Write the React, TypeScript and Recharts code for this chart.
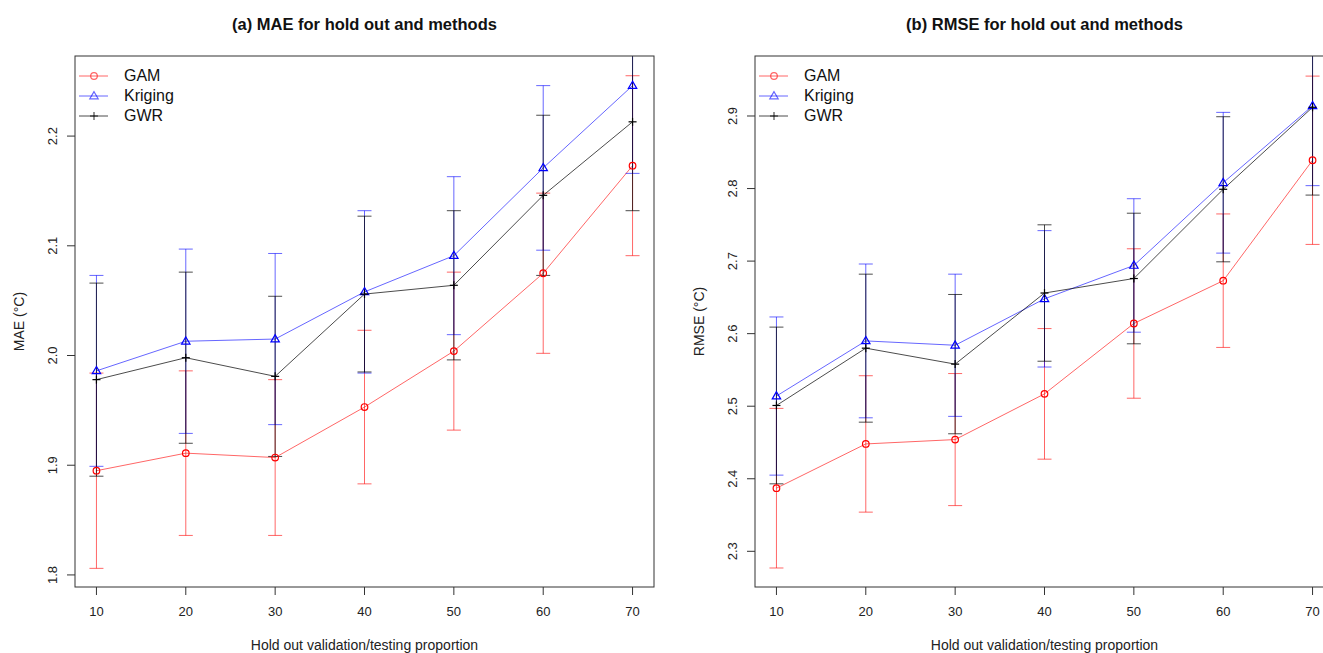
import React from 'react';
import { LineChart, Line, XAxis, YAxis, ErrorBar, ReferenceArea, Label } from 'recharts';

// ---------- data ----------
const proportions = [10, 20, 30, 40, 50, 60, 70];
const xTicks = [10, 20, 30, 40, 50, 60, 70];

const gamMae = [1.895, 1.911, 1.907, 1.953, 2.004, 2.075, 2.173];
const gamMaeErr = [0.089, 0.075, 0.071, 0.07, 0.072, 0.073, 0.082];
const krigMae = [1.986, 2.013, 2.015, 2.058, 2.091, 2.171, 2.246];
const krigMaeErr = [0.087, 0.084, 0.078, 0.074, 0.072, 0.075, 0.08];
const gwrMae = [1.978, 1.998, 1.981, 2.056, 2.064, 2.146, 2.213];
const gwrMaeErr = [0.088, 0.078, 0.073, 0.071, 0.068, 0.073, 0.081];

const gamRmse = [2.387, 2.448, 2.454, 2.517, 2.614, 2.673, 2.839];
const gamRmseErr = [0.11, 0.094, 0.091, 0.09, 0.103, 0.092, 0.116];
const krigRmse = [2.514, 2.59, 2.584, 2.648, 2.694, 2.808, 2.914];
const krigRmseErr = [0.109, 0.106, 0.098, 0.094, 0.092, 0.097, 0.11];
const gwrRmse = [2.501, 2.58, 2.558, 2.656, 2.676, 2.799, 2.912];
const gwrRmseErr = [0.108, 0.102, 0.096, 0.094, 0.09, 0.1, 0.121];

const maeTicks = [1.8, 1.9, 2.0, 2.1, 2.2];
const rmseTicks = [2.3, 2.4, 2.5, 2.6, 2.7, 2.8, 2.9];
const xDomain: [number, number] = [7.6, 72.4];
const maeDomain: [number, number] = [1.789, 2.273];
const rmseDomain: [number, number] = [2.2508, 2.9827];

const seriesNames = ['GAM', 'Kriging', 'GWR'];

// ---------- styling ----------
const FONT = '"Liberation Sans", Arial, Helvetica, sans-serif';
const LINE_COL = ['rgba(255,0,0,0.6)', 'rgba(0,0,255,0.6)', 'rgba(0,0,0,0.7)'];
const MARK_COL = ['#ff0000', '#0000ff', '#000000'];
const AXIS_COL = '#333';

function buildRows(g: number[], ge: number[], k: number[], ke: number[], w: number[], we: number[]) {
  return proportions.map((p, i) => ({
    p,
    gam: g[i],
    gamErr: ge[i],
    krig: k[i],
    krigErr: ke[i],
    gwr: w[i],
    gwrErr: we[i],
  }));
}

const maeRows = buildRows(gamMae, gamMaeErr, krigMae, krigMaeErr, gwrMae, gwrMaeErr);
const rmseRows = buildRows(gamRmse, gamRmseErr, krigRmse, krigRmseErr, gwrRmse, gwrRmseErr);

function markerShape(kind: number, cx: number, cy: number, color: string, key?: string) {
  if (kind === 0) {
    return <circle key={key} cx={cx} cy={cy} r={3.3} fill="none" stroke={color} strokeWidth={1.2} />;
  }
  if (kind === 1) {
    const pts = `${cx},${cy - 4.4} ${cx - 4.2},${cy + 2.8} ${cx + 4.2},${cy + 2.8}`;
    return <polygon key={key} points={pts} fill="none" stroke={color} strokeWidth={1.2} />;
  }
  return (
    <g key={key}>
      <line x1={cx - 4} y1={cy} x2={cx + 4} y2={cy} stroke={color} strokeWidth={1.2} />
      <line x1={cx} y1={cy - 4} x2={cx} y2={cy + 4} stroke={color} strokeWidth={1.2} />
    </g>
  );
}

const makeDot = (kind: number) => (props: any) => {
  const { cx, cy, index } = props;
  if (cx == null || cy == null) return <g key={`d${kind}-${index}`} />;
  return markerShape(kind, cx, cy, MARK_COL[kind], `d${kind}-${index}`);
};

const YTick = (props: any) => {
  const { x, y, payload } = props;
  const tx = x - 8;
  return (
    <text
      x={tx}
      y={y}
      transform={`rotate(-90, ${tx}, ${y})`}
      textAnchor="middle"
      fontSize={13}
      fill="#222"
      fontFamily={FONT}
    >
      {Number(payload.value).toFixed(1)}
    </text>
  );
};

const LegendBox = ({ left, top }: { left: number; top: number }) => (
  <div style={{ position: 'absolute', left, top, fontFamily: FONT }}>
    {seriesNames.map((name, i) => (
      <div key={name} style={{ display: 'flex', alignItems: 'center', height: 20 }}>
        <svg width={45} height={20} style={{ display: 'block' }}>
          <line x1={0} y1={10} x2={29} y2={10} stroke={LINE_COL[i]} strokeWidth={1} />
          {markerShape(i, 15, 10, LINE_COL[i])}
        </svg>
        <span style={{ fontSize: 16, lineHeight: '20px', color: '#111' }}>{name}</span>
      </div>
    ))}
  </div>
);

type PanelProps = {
  rows: any[];
  domain: [number, number];
  yTicks: number[];
  yLabel: string;
  title: string;
  left: number;
};

const Panel = ({ rows, domain, yTicks, yLabel, title, left }: PanelProps) => (
  <div style={{ position: 'absolute', left, top: 0, width: 680, height: 653 }}>
    <LineChart
      width={680}
      height={653}
      data={rows}
      margin={{ top: 56, right: 26, bottom: 36, left: 15 }}
      style={{ position: 'absolute', left: 0, top: 0 }}
    >
      <XAxis
        dataKey="p"
        type="number"
        domain={xDomain}
        ticks={xTicks}
        interval={0}
        allowDataOverflow
        axisLine={false}
        tickLine={{ stroke: AXIS_COL }}
        tickSize={8}
        tickMargin={12}
        height={30}
        tick={{ fontSize: 13, fill: '#222', fontFamily: FONT }}
      >
        <Label
          value="Hold out validation/testing proportion"
          position="bottom"
          offset={23}
          style={{ fontSize: 14, fill: '#222', fontFamily: FONT }}
        />
      </XAxis>
      <YAxis
        type="number"
        domain={domain}
        ticks={yTicks}
        interval={0}
        allowDataOverflow
        axisLine={false}
        tickLine={{ stroke: AXIS_COL }}
        tickSize={8}
        width={60}
        tick={<YTick />}
      >
        <Label
          content={(p: any) => {
            const vb = p.viewBox || { x: 15, y: 56, width: 60, height: 531 };
            const cx = vb.x + 4;
            const cy = vb.y + vb.height / 2;
            return (
              <text
                x={cx}
                y={cy}
                transform={`rotate(-90, ${cx}, ${cy})`}
                textAnchor="middle"
                dominantBaseline="central"
                fontSize={14}
                fill="#222"
                fontFamily={FONT}
              >
                {yLabel}
              </text>
            );
          }}
        />
      </YAxis>
      <Line
        dataKey="gam"
        stroke={LINE_COL[0]}
        strokeWidth={1}
        dot={makeDot(0)}
        activeDot={false}
        isAnimationActive={false}
      >
        <ErrorBar dataKey="gamErr" direction="y" width={7} stroke={LINE_COL[0]} strokeWidth={1} />
      </Line>
      <Line
        dataKey="krig"
        stroke={LINE_COL[1]}
        strokeWidth={1}
        dot={makeDot(1)}
        activeDot={false}
        isAnimationActive={false}
      >
        <ErrorBar dataKey="krigErr" direction="y" width={7} stroke={LINE_COL[1]} strokeWidth={1} />
      </Line>
      <Line
        dataKey="gwr"
        stroke={LINE_COL[2]}
        strokeWidth={1}
        dot={makeDot(2)}
        activeDot={false}
        isAnimationActive={false}
      >
        <ErrorBar dataKey="gwrErr" direction="y" width={7} stroke={LINE_COL[2]} strokeWidth={1} />
      </Line>
    </LineChart>
    {/* white margin above the plot box so error bars stay inside the frame, like R's clipping */}
    <div style={{ position: 'absolute', left: 60, top: 0, width: 620, height: 55.5, background: '#fff' }} />
    <svg width={680} height={653} style={{ position: 'absolute', left: 0, top: 0, pointerEvents: 'none' }}>
      <rect x={75} y={56} width={579} height={531} fill="none" stroke={AXIS_COL} strokeWidth={1} />
    </svg>
    <div
      style={{
        position: 'absolute',
        left: 75,
        width: 579,
        top: 16,
        textAlign: 'center',
        fontSize: 16.5,
        lineHeight: 1,
        fontWeight: 'bold',
        color: '#111',
        fontFamily: FONT,
        whiteSpace: 'nowrap',
      }}
    >
      {title}
    </div>
    <LegendBox left={79} top={66} />
  </div>
);

export default function App() {
  return (
    <div
      style={{
        position: 'absolute',
        left: 0,
        top: 0,
        width: 1323,
        height: 653,
        overflow: 'hidden',
        background: '#fff',
        fontFamily: FONT,
      }}
    >
      <Panel
        rows={maeRows}
        domain={maeDomain}
        yTicks={maeTicks}
        yLabel="MAE (°C)"
        title="(a) MAE for hold out and methods"
        left={0}
      />
      <Panel
        rows={rmseRows}
        domain={rmseDomain}
        yTicks={rmseTicks}
        yLabel="RMSE (°C)"
        title="(b) RMSE for hold out and methods"
        left={680}
      />
    </div>
  );
}
